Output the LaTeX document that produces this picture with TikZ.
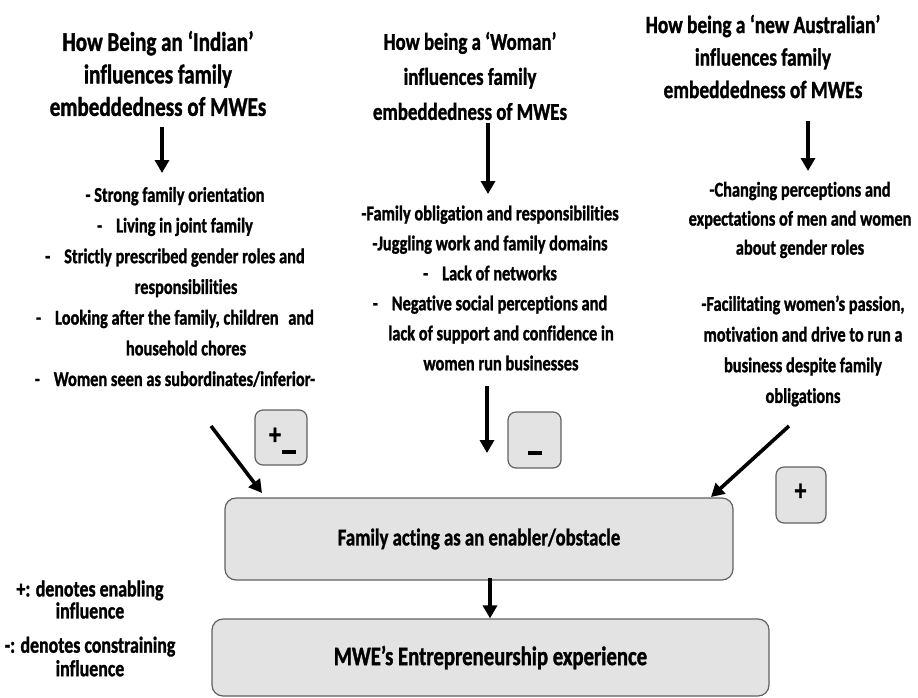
\documentclass[tikz,border=0pt]{standalone}
\usepackage{fontspec}
\setmainfont{Carlito}[FakeStretch=0.78, Ligatures=NoCommon, BoldFeatures={FakeBold=1.2}]
\usetikzlibrary{arrows.meta}
\tikzset{
  txt/.style={inner sep=0pt, align=center, text=black},
  arr/.style={line width=3.6pt, -{Triangle[width=14pt,length=13pt]}},
  rbox/.style={draw=black!62, line width=1.2pt, fill=black!11, rounded corners=11pt, inner sep=0pt},
  sbox/.style={draw=black!62, line width=1.2pt, fill=black!11, rounded corners=8pt, inner sep=0pt},
  sym/.style={inner sep=0pt, font=\bfseries\fontsize{30}{30}\selectfont},
}
\begin{document}
\begin{tikzpicture}[x=1pt,y=-1pt]
\useasboundingbox[fill=white] (0,0) rectangle (918,697);

% titles
\node[txt, font=\bfseries\fontsize{27}{32.5}\selectfont] (t1) at (158,73.5)
  {How Being an ‘Indian’\\influences family\\embeddedness of MWEs};
\node[txt, font=\bfseries\fontsize{24.2}{35}\selectfont] (t2) at (470,76)
  {How being a ‘Woman’\\influences family\\embeddedness of MWEs};
\node[txt, font=\bfseries\fontsize{24.8}{32.5}\selectfont] (t3) at (763,56.5)
  {How being a ‘new Australian’\\influences family\\embeddedness of MWEs};

% lists
\node[txt, font=\bfseries\fontsize{21}{30.7}\selectfont] (l1) at (175,287)
  {- Strong family orientation\\
   -\hspace{14pt}Living in joint family\\
   -\hspace{14pt}Strictly prescribed gender roles and\\
   \hspace*{22pt}responsibilities\\
   -\hspace{14pt}Looking after the family, children\hspace{6pt} and\\
   \hspace*{22pt}household chores\\
   -\hspace{14pt}Women seen as subordinates/inferior-};
\node[txt, font=\bfseries\fontsize{21}{30}\selectfont] (l2) at (490,288)
  {-Family obligation and responsibilities\\
   -Juggling work and family domains\\
   -\hspace{14pt}Lack of networks\\
   -\hspace{14pt}Negative social perceptions and\\
   \hspace*{22pt}lack of support and confidence in\\
   \hspace*{22pt}women run businesses};
\node[txt, font=\bfseries\fontsize{21}{29}\selectfont] (l3a) at (800,220)
  {-Changing perceptions and\\expectations of men and women\\about gender roles};
\node[txt, font=\bfseries\fontsize{21}{30.7}\selectfont] (l3b) at (803,351)
  {-Facilitating women’s passion,\\motivation and drive to run a\\business despite family\\obligations};

% main boxes
\node[rbox, minimum width=508pt, minimum height=82pt,
      font=\bfseries\fontsize{24}{29}\selectfont] (fam) at (479,539)
  {Family acting as an enabler/obstacle};
\node[rbox, minimum width=557pt, minimum height=77pt,
      font=\bfseries\fontsize{26.6}{32}\selectfont] (mwe) at (490.5,657.5)
  {MWE’s Entrepreneurship experience};

% sign boxes
\node[sbox, minimum width=52pt, minimum height=55pt] (pm) at (281,437.5) {};
\node[sym] (pmplus) at (275,436) {+};
\node[inner sep=0pt] (pmminus) at (288.5,452) {\rule{14pt}{4pt}};
\node[sbox, minimum width=53pt, minimum height=56pt] (mi) at (534.5,440) {};
\node[inner sep=0pt] (mimark) at (535,453) {\rule{14pt}{4pt}};
\node[sbox, minimum width=50pt, minimum height=56pt] (pl) at (801,495) {};
\node[sym] (plmark) at (800.5,492) {+};

% legend
\node[txt, font=\bfseries\fontsize{22.9}{22}\selectfont] (leg1) at (90,599.5)
  {+: denotes enabling\\influence};
\node[txt, font=\bfseries\fontsize{22.9}{23.5}\selectfont] (leg2) at (90,656.5)
  {-: denotes constraining\\influence};

% arrow end points
\coordinate (a1s) at (162,127); \coordinate (a1e) at (162,173);
\coordinate (a2s) at (488,123); \coordinate (a2e) at (488,194);
\coordinate (a3s) at (487,386); \coordinate (a3e) at (487,453);
\coordinate (a4s) at (808,121); \coordinate (a4e) at (808,171);
\coordinate (dls) at (211,426); \coordinate (dle) at (262,493);
\coordinate (drs) at (789,426); \coordinate (dre) at (711,497);
\coordinate (a5) at (490,0);

\draw[arr] (a1s) -- (a1e);
\draw[arr] (a2s) -- (a2e);
\draw[arr] (a3s) -- (a3e);
\draw[arr] (a4s) -- (a4e);
\draw[arr] (dls) -- (dle);
\draw[arr] (drs) -- (dre);
\draw[arr] ([yshift=3pt]fam.south -| a5) -- (mwe.north -| a5);
\end{tikzpicture}
\end{document}
